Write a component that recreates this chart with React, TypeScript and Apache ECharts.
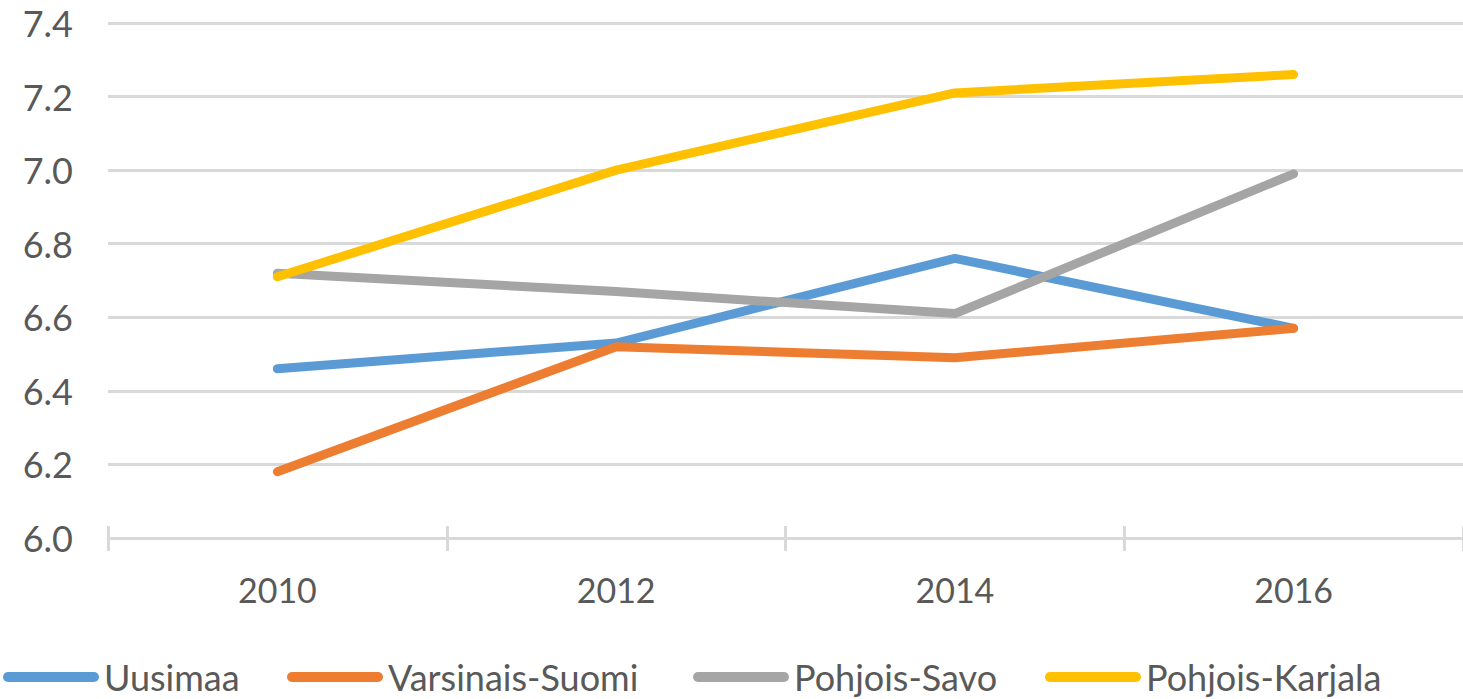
import React, { useEffect, useRef } from "react";
import * as echarts from "echarts";

const years = ["2010", "2012", "2014", "2016"];
const uusimaa = [6.46, 6.53, 6.76, 6.57];
const varsinaisSuomi = [6.18, 6.52, 6.49, 6.57];
const pohjoisSavo = [6.72, 6.67, 6.61, 6.99];
const pohjoisKarjala = [6.71, 7.0, 7.21, 7.26];
const seriesNames = ["Uusimaa", "Varsinais-Suomi", "Pohjois-Savo", "Pohjois-Karjala"];
const seriesColors = ["#5B9BD5", "#ED7D31", "#A5A5A5", "#FFC000"];
const legendLefts = [3, 287, 693, 1045];

const FONT = "Lato";
const capsule = "path://M5,0 H91 A5,5 0 0 1 91,10 H5 A5,5 0 0 1 5,0 Z";

export default function App() {
  const ref = useRef<HTMLDivElement>(null);
  useEffect(() => {
    if (!ref.current) return;
    const chart = echarts.init(ref.current, null, { renderer: "svg" });
    const data = [uusimaa, varsinaisSuomi, pohjoisSavo, pohjoisKarjala];
    chart.setOption({
      animation: false,
      backgroundColor: "#ffffff",
      grid: { left: 108, top: 23, width: 1358, bottom: 161 },
      legend: seriesNames.map((n, i) => ({
        data: [n],
        left: legendLefts[i],
        top: 656,
        icon: capsule,
        itemWidth: 96,
        itemHeight: 10,
        padding: 0,
        textStyle: { fontFamily: FONT, fontSize: 36, color: "#595959", lineHeight: 42 },
      })),
      xAxis: [
        {
          type: "category",
          data: years,
          boundaryGap: true,
          position: "bottom",
          axisLine: { lineStyle: { color: "#d9d9d9", width: 3 } },
          axisTick: { show: true, length: 13, lineStyle: { color: "#d9d9d9", width: 3 } },
          axisLabel: { fontFamily: FONT, fontSize: 34, color: "#595959", margin: 34 },
          splitLine: { show: false },
        },
        {
          type: "category",
          data: years,
          boundaryGap: true,
          position: "bottom",
          axisLine: { show: false },
          axisTick: { show: true, inside: true, length: 12, lineStyle: { color: "#d9d9d9", width: 3 } },
          axisLabel: { show: false },
          splitLine: { show: false },
        },
      ],
      yAxis: {
        type: "value",
        min: 6.0,
        max: 7.4,
        interval: 0.2,
        axisLine: { show: false },
        axisTick: { show: false },
        axisLabel: {
          fontFamily: FONT,
          fontSize: 36,
          color: "#595959",
          margin: 35,
          formatter: (v: number) => v.toFixed(1),
        },
        splitLine: { lineStyle: { color: "#d9d9d9", width: 3 } },
      },
      series: seriesNames.map((n, i) => ({
        name: n,
        type: "line",
        data: data[i],
        symbol: "none",
        color: seriesColors[i],
        lineStyle: { width: 9, color: seriesColors[i], cap: "round", join: "round" },
      })),
    });
    return () => chart.dispose();
  }, []);
  return (
    <div
      ref={ref}
      style={{ position: "fixed", left: 0, top: 0, width: 1463, height: 699 }}
    />
  );
}
